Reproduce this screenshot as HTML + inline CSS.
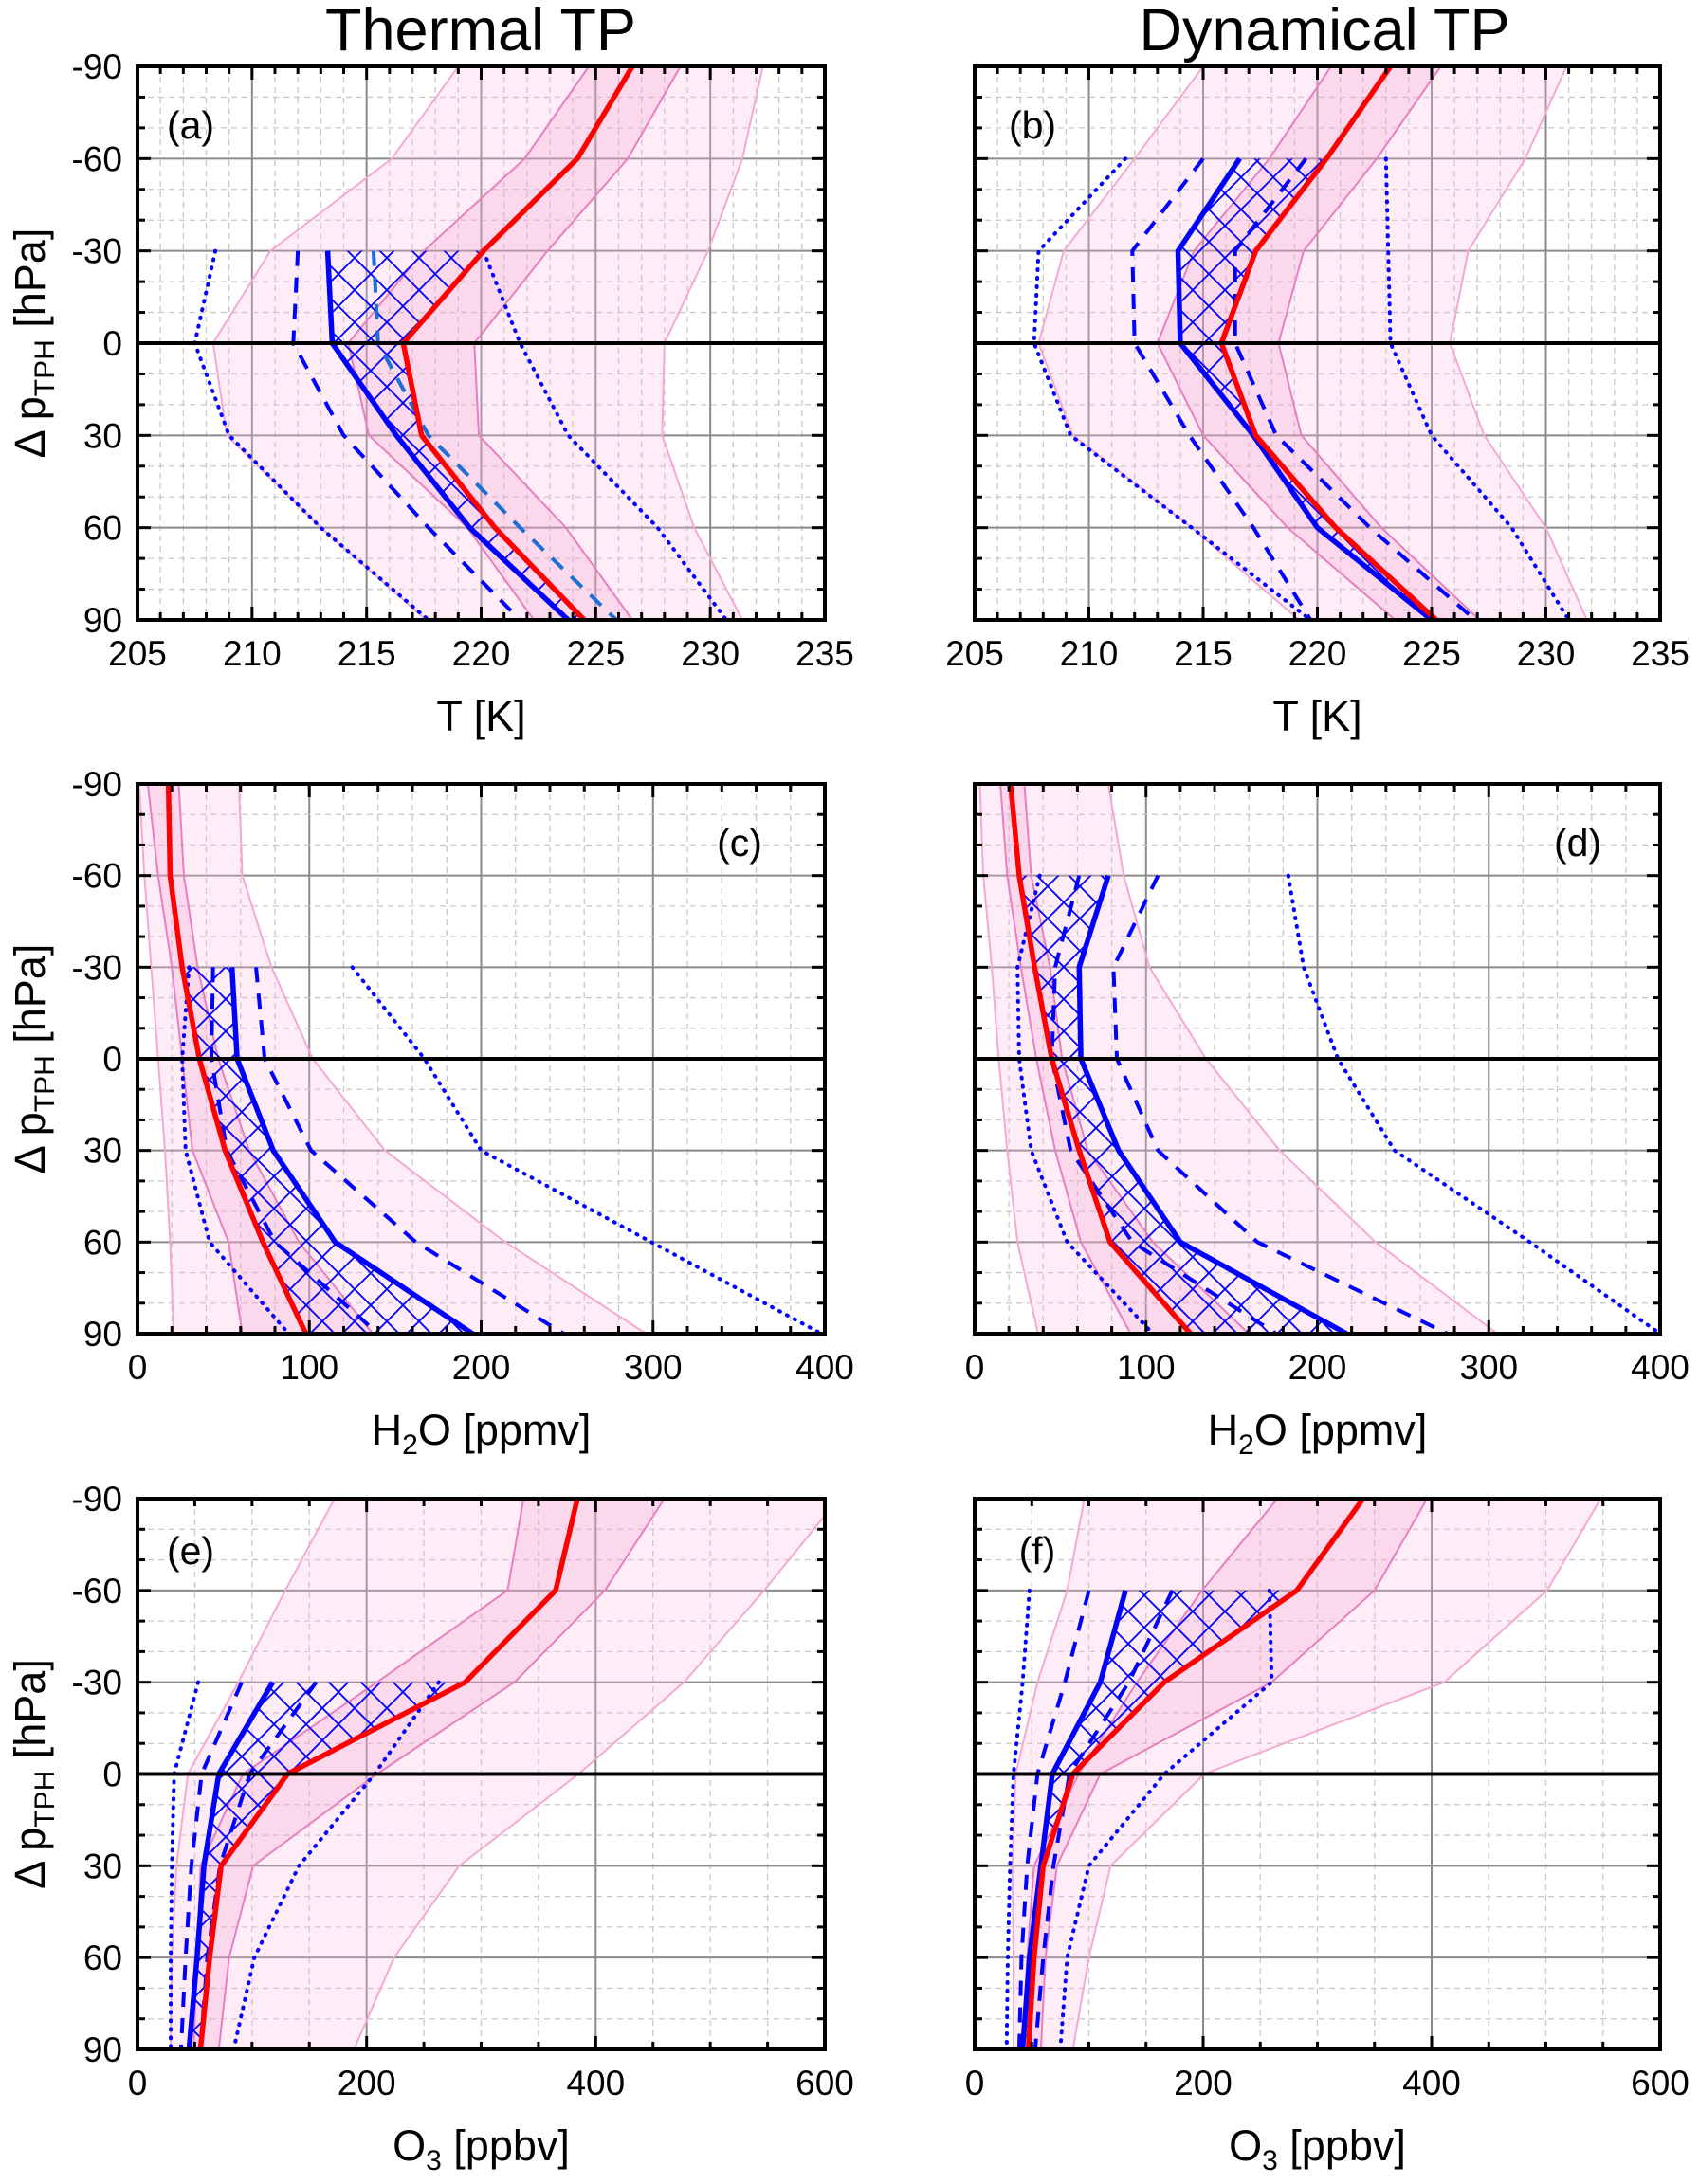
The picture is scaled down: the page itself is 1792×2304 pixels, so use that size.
<!DOCTYPE html>
<html><head><meta charset="utf-8">
<style>
html,body{margin:0;padding:0;background:#fff;}
svg{display:block;font-family:"Liberation Sans",Arial,sans-serif;}
</style></head>
<body>
<svg id="chart" width="1792" height="2304" viewBox="0 0 1792 2304" xmlns="http://www.w3.org/2000/svg">
<defs>
<pattern id="hatch" patternUnits="userSpaceOnUse" width="34" height="34">
<path d="M0,0 L34,34 M34,0 L0,34 M-17,17 L0,34 M17,-17 L34,0 M17,51 L34,34" stroke="#0000ff" stroke-width="1.8" fill="none"/>
</pattern>
</defs>
<text x="507" y="53" font-size="63" text-anchor="middle">Thermal TP</text>
<text x="1397" y="53" font-size="63" text-anchor="middle">Dynamical TP</text>
</svg>
<script>
const levels = [-90,-60,-30,0,30,60,90];
const yTicks = [-90,-60,-30,0,30,60,90];
const tTicks = [205,210,215,220,225,230,235];
const h2oTicks = [0,100,200,300,400];
const o3Ticks = [0,200,400,600];

// Panel (a) Thermal TP, temperature
const aRed = [226.6,224.2,220.1,216.6,217.4,220.6,224.5];
const aBlue = [null,null,213.3,213.5,216.3,219.5,223.8];
const aDashL = [null,null,212.0,211.8,214.0,217.7,221.7];
const aDashR = [null,null,215.3,215.5,217.7,221.7,225.9];
const aDotL = [null,null,208.4,207.5,209.0,213.0,217.7];
const aDotR = [null,null,220.1,221.7,223.8,227.7,230.7];
const aOutL = [219.0,216.1,210.8,208.3,208.9,213.0,217.6];
const aOutR = [232.3,231.4,229.9,228.0,227.9,229.3,231.4];
const aInL = [224.7,221.9,217.5,214.2,215.1,219.4,222.3];
const aInR = [228.7,226.4,222.9,219.7,219.9,223.7,226.6];

// Panel (b) Dynamical TP, temperature
const bRed = [223.2,220.4,217.3,215.8,217.3,220.8,225.2];
const bBlue = [null,216.6,213.9,214.0,217.2,220.0,225.0];
const bDashL = [null,215.0,211.9,212.0,214.4,217.2,219.7];
const bDashR = [null,219.5,216.4,216.4,218.2,222.3,226.9];
const bDotL = [null,211.6,207.8,207.6,209.2,214.5,219.7];
const bDotR = [null,223.0,223.1,223.2,225.0,228.5,231.0];
const bOutL = [215.0,212.0,208.9,207.8,209.3,214.5,219.2];
const bOutR = [230.9,229.1,226.6,225.8,227.3,230.0,231.8];
const bInL = [220.6,217.9,214.6,213.0,215.0,218.7,223.4];
const bInR = [225.4,222.6,219.4,218.3,219.3,222.8,227.1];

// Panel (c) Thermal TP, H2O
const cRed = [18,19,26,36,51,73,98];
const cBlue = [null,null,55,58,79,115,195];
const cDashL = [null,null,44,43,52,80,140];
const cDashR = [null,null,69,74,101,162,248];
const cDotL = [null,null,30,26,28,42,88];
const cDotR = [null,null,125,167,200,299,398];
const cOutL = [1,4,8,12,16,19,21];
const cOutR = [59,61,78,102,144,214,296];
const cInL = [6,12,20,26,32,53,61];
const cInR = [24,27,35,47,65,94,137];

// Panel (d) Dynamical TP, H2O
const dRed = [21,26,35,45,61,79,126];
const dBlue = [null,78,61,62,84,120,217];
const dDashL = [null,61,47,45,56,92,176];
const dDashR = [null,107,81,83,107,165,276];
const dDotL = [null,38,25,26,33,54,104];
const dDotR = [null,183,192,212,245,324,400];
const dOutL = [3,5,10,14,19,25,37];
const dOutR = [78,87,102,135,178,234,305];
const dInL = [15,19,27,36,47,62,91];
const dInR = [29,33,44,51,66,104,160];

// Panel (e) Thermal TP, O3
const eRed = [384,365,286,131,73,63,55];
const eBlue = [null,null,118,71,58,52,45];
const eDashL = [null,null,91,56,47,42,38];
const eDashR = [null,null,156,98,72,61,55];
const eDotL = [null,null,53,32,30,29,29];
const eDotR = [null,null,263,207,141,102,84];
const eOutL = [172,129,88,44,34,30,29];
const eOutR = [612,547,477,385,281,224,189];
const eInL = [337,323,209,92,55,52,49];
const eInR = [460,408,329,209,101,80,71];

// Panel (f) Dynamical TP, O3
const fRed = [340,282,166,86,60,52,47];
const fBlue = [null,132,110,68,58,48,42];
const fDashL = [null,100,79,55,46,41,39];
const fDashR = [null,173,135,83,69,60,53];
const fDotL = [null,48,42,34,31,29,28];
const fDotR = [null,258,260,166,100,81,75];
const fOutL = [96,81,55,36,33,34,34];
const fOutR = [548,501,411,201,119,100,86];
const fInL = [265,199,142,91,52,46,42];
const fInR = [396,350,260,110,72,62,58];

const NS = 'http://www.w3.org/2000/svg';
const svg = document.getElementById('chart');
function mk(tag, attrs, parent){
  const e = document.createElementNS(NS, tag);
  for (const k in attrs) e.setAttribute(k, attrs[k]);
  (parent||svg).appendChild(e);
  return e;
}

const cols = [{x0:145,x1:870},{x0:1028,x1:1751}];
const rows = [{y0:70,y1:654},{y0:827,y1:1407},{y0:1581,y1:2162}];

const panelDefs = [
 {id:'a',c:0,r:0,xmin:205,xmax:235,major:5,minor:1,ticks:tTicks,red:aRed,blue:aBlue,dl:aDashL,dr:aDashR,tl:aDotL,tr:aDotR,ol:aOutL,or:aOutR,il:aInL,ir:aInR,lx:201,ly:132,dashRColor:'#1c6fd6'},
 {id:'b',c:1,r:0,xmin:205,xmax:235,major:5,minor:1,ticks:tTicks,red:bRed,blue:bBlue,dl:bDashL,dr:bDashR,tl:bDotL,tr:bDotR,ol:bOutL,or:bOutR,il:bInL,ir:bInR,lx:1089,ly:132,dashRColor:'#0000ff'},
 {id:'c',c:0,r:1,xmin:0,xmax:400,major:100,minor:20,ticks:h2oTicks,red:cRed,blue:cBlue,dl:cDashL,dr:cDashR,tl:cDotL,tr:cDotR,ol:cOutL,or:cOutR,il:cInL,ir:cInR,lx:780,ly:889,dashRColor:'#0000ff'},
 {id:'d',c:1,r:1,xmin:0,xmax:400,major:100,minor:20,ticks:h2oTicks,red:dRed,blue:dBlue,dl:dDashL,dr:dDashR,tl:dDotL,tr:dDotR,ol:dOutL,or:dOutR,il:dInL,ir:dInR,lx:1664,ly:889,dashRColor:'#0000ff'},
 {id:'e',c:0,r:2,xmin:0,xmax:600,major:200,minor:50,ticks:o3Ticks,red:eRed,blue:eBlue,dl:eDashL,dr:eDashR,tl:eDotL,tr:eDotR,ol:eOutL,or:eOutR,il:eInL,ir:eInR,lx:201,ly:1636,dashRColor:'#0000ff'},
 {id:'f',c:1,r:2,xmin:0,xmax:600,major:200,minor:50,ticks:o3Ticks,red:fRed,blue:fBlue,dl:fDashL,dr:fDashR,tl:fDotL,tr:fDotR,ol:fOutL,or:fOutR,il:fInL,ir:fInR,lx:1094,ly:1636,dashRColor:'#0000ff'}
];
const xTitles = ['T [K]','T [K]','H2O','H2O','O3','O3'];

panelDefs.forEach((p, idx) => {
  const X0 = cols[p.c].x0, X1 = cols[p.c].x1, Y0 = rows[p.r].y0, Y1 = rows[p.r].y1;
  const xs = v => X0 + (v - p.xmin) / (p.xmax - p.xmin) * (X1 - X0);
  const ys = v => Y0 + (v + 90) / 180 * (Y1 - Y0);
  const g = mk('g', {});
  
  
  const cp = mk('clipPath', {id:'clip-' + p.id}, g);
  mk('rect', {x:X0, y:Y0, width:X1-X0, height:Y1-Y0}, cp);
  const inner = mk('g', {'clip-path':'url(#clip-' + p.id + ')'}, g);

  const grid = mk('g', {}, inner);
  
  
  const nMinor = Math.round((p.xmax - p.xmin) / p.minor);
  for (let i = 1; i < nMinor; i++) {
    const v = p.xmin + i * p.minor;
    const isMaj = Math.abs(((v - p.xmin) / p.major) - Math.round((v - p.xmin) / p.major)) < 1e-6;
    mk('line', {x1:xs(v), x2:xs(v), y1:Y0, y2:Y1, stroke: isMaj ? '#8a8a8a' : '#c8c8c8', 'stroke-width': isMaj ? 2 : 1.3, 'stroke-dasharray': isMaj ? 'none' : '6,5'}, grid);
  }
  for (let v = -80; v < 90; v += 10) {
    const isMaj = v % 30 === 0;
    mk('line', {x1:X0, x2:X1, y1:ys(v), y2:ys(v), stroke: isMaj ? '#8a8a8a' : '#c8c8c8', 'stroke-width': isMaj ? 2 : 1.3, 'stroke-dasharray': isMaj ? 'none' : '6,5'}, grid);
  }

  function pts(arr){ const o=[]; arr.forEach((v,i)=>{ if(v!==null) o.push([xs(v), ys(levels[i])]); }); return o; }
  function band(L, R, fill, stroke, name){
    const pl = pts(L), pr = pts(R).reverse();
    const poly = mk('polygon', {points: pl.concat(pr).map(q=>q.join(',')).join(' '), fill: fill, stroke:'none'}, inner);
    
    
    mk('polyline', {points: pts(L).map(q=>q.join(',')).join(' '), fill:'none', stroke: stroke, 'stroke-width':2}, inner);
    mk('polyline', {points: pts(R).map(q=>q.join(',')).join(' '), fill:'none', stroke: stroke, 'stroke-width':2}, inner);
  }
  band(p.ol, p.or, 'rgba(250,190,225,0.28)', '#f5a9d2', 'outer-band-' + p.id);
  band(p.il, p.ir, 'rgba(240,140,195,0.22)', '#e77fc0', 'inner-band-' + p.id);

  const hl = pts(p.blue);
  const redSub = p.red.map((v,i)=> p.blue[i]===null ? null : v);
  const hr = pts(redSub).reverse();
  const hatch = mk('polygon', {points: hl.concat(hr).map(q=>q.join(',')).join(' '), fill:'url(#hatch)', stroke:'none'}, inner);
  
  

  function line(arr, color, w, dash, cap, name){
    const l = mk('polyline', {points: pts(arr).map(q=>q.join(',')).join(' '), fill:'none', stroke:color, 'stroke-width':w, 'stroke-dasharray':dash, 'stroke-linejoin':'round', 'stroke-linecap': cap}, inner);
    
    
  }
  line(p.tl, '#0000ff', 4, '1,8', 'round', 'blue-dotted-left-' + p.id);
  line(p.tr, '#0000ff', 4, '1,8', 'round', 'blue-dotted-right-' + p.id);
  line(p.dl, '#0000ff', 4, '16,12', 'butt', 'blue-dashed-left-' + p.id);
  line(p.dr, p.dashRColor, 4, '16,12', 'butt', 'blue-dashed-right-' + p.id);
  line(p.blue, '#0000ff', 5.5, 'none', 'butt', 'blue-median-' + p.id);
  line(p.red, '#ff0000', 5.5, 'none', 'butt', 'red-median-' + p.id);

  const zl = mk('line', {x1:X0, x2:X1, y1:ys(0), y2:ys(0), stroke:'#000', 'stroke-width':4});
  
  
  g.appendChild(zl);

  const tk = mk('g', {stroke:'#000', 'stroke-width':3}, g);
  for (let i = 0; i <= nMinor; i++) {
    const v = p.xmin + i * p.minor;
    const isMaj = Math.abs(((v - p.xmin) / p.major) - Math.round((v - p.xmin) / p.major)) < 1e-6;
    const L = isMaj ? 14 : 8;
    mk('line', {x1:xs(v), x2:xs(v), y1:Y1, y2:Y1-L}, tk);
    mk('line', {x1:xs(v), x2:xs(v), y1:Y0, y2:Y0+L}, tk);
  }
  for (let v = -90; v <= 90; v += 10) {
    const L = v % 30 === 0 ? 14 : 8;
    mk('line', {x1:X0, x2:X0+L, y1:ys(v), y2:ys(v)}, tk);
    mk('line', {x1:X1, x2:X1-L, y1:ys(v), y2:ys(v)}, tk);
  }
  const fr = mk('rect', {x:X0, y:Y0, width:X1-X0, height:Y1-Y0, fill:'none', stroke:'#000', 'stroke-width':4}, g);
  
  

  p.ticks.forEach(v => {
    const t = mk('text', {x:xs(v), y:Y1+48, 'font-size':37, 'text-anchor':'middle'}, g);
    t.textContent = String(v);
    
    
  });
  if (p.c === 0) {
    yTicks.forEach(v => {
      const t = mk('text', {x:X0-16, y:ys(v)+13, 'font-size':37, 'text-anchor':'end'}, g);
      t.textContent = String(v);
      
      
    });
    const yt = mk('text', {x:0, y:0, 'font-size':45, 'text-anchor':'middle', transform:'translate(47,' + ((Y0+Y1)/2) + ') rotate(-90)'}, g);
    
    
    yt.appendChild(document.createTextNode('\u0394 p'));
    const sub = mk('tspan', {'font-size':30, dy:10}, yt); sub.textContent = 'TPH';
    const rest = mk('tspan', {dy:-10}, yt); rest.textContent = ' [hPa]';
  }
  const xt = mk('text', {x:(X0+X1)/2, y:Y1+117, 'font-size':45, 'text-anchor':'middle'}, g);
  
  
  const ttl = xTitles[idx];
  if (ttl === 'H2O') {
    xt.appendChild(document.createTextNode('H'));
    const s = mk('tspan', {'font-size':30, dy:10}, xt); s.textContent = '2';
    const r2 = mk('tspan', {dy:-10}, xt); r2.textContent = 'O [ppmv]';
  } else if (ttl === 'O3') {
    xt.appendChild(document.createTextNode('O'));
    const s = mk('tspan', {'font-size':30, dy:10}, xt); s.textContent = '3';
    const r2 = mk('tspan', {dy:-10}, xt); r2.textContent = ' [ppbv]';
  } else {
    xt.textContent = ttl;
  }
  const pl = mk('text', {x:p.lx, y:p.ly+14, 'font-size':41, 'text-anchor':'middle'}, g);
  pl.textContent = '(' + p.id + ')';
  
  
});
</script>
</body></html>
